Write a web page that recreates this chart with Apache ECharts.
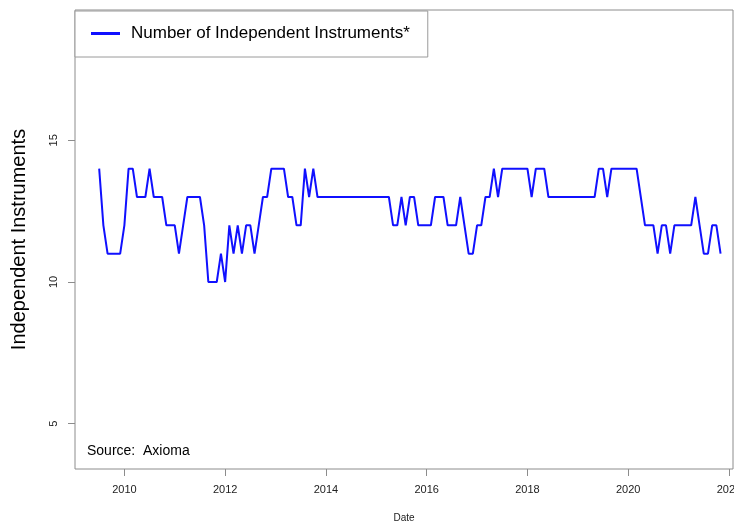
<!DOCTYPE html>
<html>
<head>
<meta charset="utf-8">
<script src="https://cdn.jsdelivr.net/npm/echarts@6/dist/echarts.min.js"></script>
<style>
html,body{margin:0;padding:0;background:#fff;}
#chart{width:734px;height:521px;}
</style>
</head>
<body>
<div id="chart"></div>
<script>
// monthly counts, month-end from Jun 2009 to Oct 2021
var startYear = 2009, startMonth = 6;
var counts = [
    14,12,11,11,11,11,12,14,14,13,13,13,14,13,13,13,12,12,12,11,12,13,13,13,13,12,10,10,10,11,
    10,12,11,12,11,12,12,11,12,13,13,14,14,14,14,13,13,12,12,14,13,14,
    13,13,13,13,13,13,13,13,13,13,13,13,13,13,13,13,13,13,
    12,12,13,12,13,13,12,12,12,12,13,13,13,12,12,12,13,12,11,11,12,12,13,13,14,13,
    14,14,14,14,14,14,14,13,14,14,14,
    13,13,13,13,13,13,13,13,13,13,13,13,14,14,13,
    14,14,14,14,14,14,14,13,12,12,12,11,12,12,11,12,12,12,12,12,13,12,11,11,12,12,11
];
var yearTicks = [2010, 2012, 2014, 2016, 2018, 2020, 2022];
var valueTicks = [5, 10, 15];
var seriesName = 'Number of Independent Instruments*';

var points = counts.map(function (v, i) {
    return [startYear + (startMonth + i) / 12, v];
});

var chart = echarts.init(document.getElementById('chart'));
var option = {
    animation: false,
    backgroundColor: '#fff',
    grid: {
        left: 75, right: 1, top: 10, bottom: 52,
        outerBoundsMode: 'none',
        show: true, borderColor: '#8c8c8c', borderWidth: 1, backgroundColor: 'transparent'
    },
    legend: {
        left: 75, top: 11,
        padding: [14, 18, 15, 16],
        backgroundColor: '#fff',
        borderColor: '#9a9a9a', borderWidth: 1, borderRadius: 0,
        icon: 'rect', itemWidth: 29, itemHeight: 3,
        textStyle: { fontFamily: 'Liberation Sans', fontSize: 17, color: '#000', padding: [0, 0, 0, 6] },
        data: [seriesName]
    },
    xAxis: {
        type: 'value',
        min: 2009.02, max: 2022.08,
        name: 'Date', nameLocation: 'middle', nameGap: 44,
        nameTextStyle: { fontFamily: 'Liberation Sans', fontSize: 10, color: '#222' },
        axisLine: { show: false },
        splitLine: { show: false },
        axisTick: { show: true, length: 7, lineStyle: { color: '#8c8c8c' }, customValues: yearTicks },
        axisLabel: { fontFamily: 'Liberation Sans', fontSize: 11, color: '#222', margin: 15,
            customValues: yearTicks, formatter: function (v) { return String(v); } }
    },
    yAxis: {
        type: 'value',
        min: 3.4, max: 19.6,
        name: 'Independent Instruments', nameLocation: 'middle', nameRotate: 90, nameGap: 46,
        nameTextStyle: { fontFamily: 'Liberation Sans', fontSize: 20, color: '#000' },
        axisLine: { show: false },
        splitLine: { show: false },
        axisTick: { show: true, length: 7, lineStyle: { color: '#8c8c8c' }, customValues: valueTicks },
        axisLabel: { fontFamily: 'Liberation Sans', fontSize: 11, color: '#222', rotate: 90, margin: 16,
            customValues: valueTicks }
    },
    graphic: [{
        type: 'text', left: 87, top: 444,
        style: { text: 'Source:  Axioma', fontFamily: 'Liberation Sans', fontSize: 14, fill: '#000' }
    }],
    series: [{
        name: seriesName,
        type: 'line',
        data: points,
        showSymbol: false,
        color: '#1010ff',
        lineStyle: { width: 2, color: '#1010ff' }
    }]
};
chart.setOption(option);
</script>
</body>
</html>
